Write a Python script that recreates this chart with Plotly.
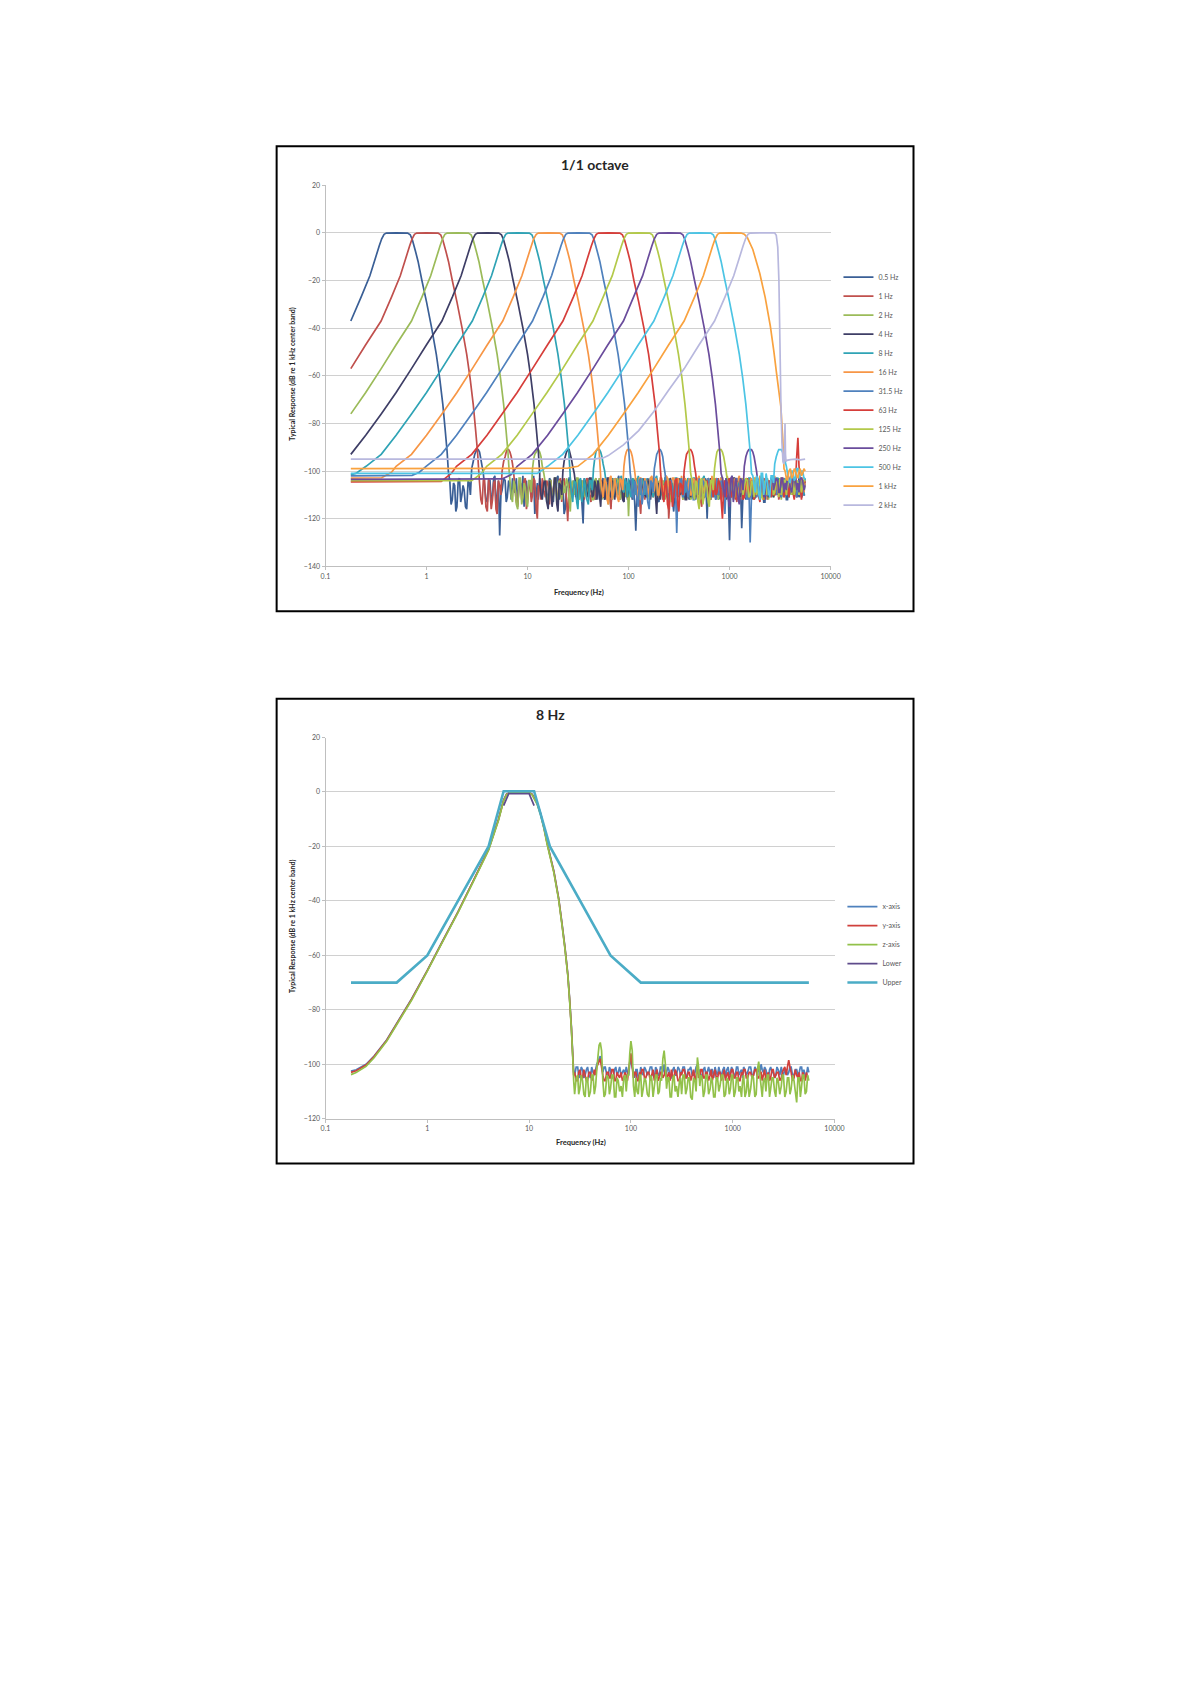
import plotly.graph_objects as go

W, H = 1190, 1684

# ---------------------------------------------------------------
# Chart 1 : 1/1 octave band responses
# ---------------------------------------------------------------
BAND_NAMES = ["0.5 Hz", "1 Hz", "2 Hz", "4 Hz", "8 Hz", "16 Hz", "31.5 Hz",
              "63 Hz", "125 Hz", "250 Hz", "500 Hz", "1 kHz", "2 kHz"]
BAND_COLORS = ["#3A5F96", "#C0504D", "#9BBB59", "#3E3E66", "#2FA3B5", "#F79646",
               "#4F81BD", "#D63E3A", "#B3C94A", "#6A4C9C", "#4CC4E4", "#F9A23F",
               "#B8B8DE"]

# smooth (filter) part of each band: frequency (Hz) and level (dB)
F_05 = [0.178, 0.225, 0.275, 0.31, 0.34, 0.36, 0.38, 0.4, 0.5, 0.65, 0.69, 0.725, 0.775, 0.825, 0.9, 1.0, 1.125, 1.25, 1.35, 1.45, 1.525, 1.6, 1.65]
D_05 = [-37, -27, -18, -11, -5.5, -2.5, -0.6, -0.1, 0, -0.1, -0.8, -3, -7.5, -12, -20, -29, -40, -51, -61, -72, -82, -92, -101]
F_1 = [0.178, 0.25, 0.355, 0.45, 0.55, 0.62, 0.68, 0.72, 0.76, 0.8, 1.0, 1.3, 1.38, 1.45, 1.55, 1.65, 1.8, 2.0, 2.25, 2.5, 2.7, 2.9, 3.05, 3.2, 3.3]
D_1 = [-57, -47, -37, -27, -18, -11, -5.5, -2.5, -0.6, -0.1, 0, -0.1, -0.8, -3, -7.5, -12, -20, -29, -40, -51, -61, -72, -82, -92, -101]
F_2 = [0.178, 0.25, 0.356, 0.5, 0.71, 0.9, 1.1, 1.24, 1.36, 1.44, 1.52, 1.6, 2.0, 2.6, 2.76, 2.9, 3.1, 3.3, 3.6, 4.0, 4.5, 5.0, 5.4, 5.8, 6.1, 6.4, 6.6]
D_2 = [-76, -67, -57, -47, -37, -27, -18, -11, -5.5, -2.5, -0.6, -0.1, 0, -0.1, -0.8, -3, -7.5, -12, -20, -29, -40, -51, -61, -72, -82, -92, -101]
F_4 = [0.178, 0.25, 0.356, 0.5, 0.71, 1.0, 1.42, 1.8, 2.2, 2.48, 2.72, 2.88, 3.04, 3.2, 4.0, 5.2, 5.52, 5.8, 6.2, 6.6, 7.2, 8.0, 9.0, 10.0, 10.8, 11.6, 12.2, 12.8, 13.2]
D_4 = [-93, -85, -76, -67, -57, -47, -37, -27, -18, -11, -5.5, -2.5, -0.6, -0.1, 0, -0.1, -0.8, -3, -7.5, -12, -20, -29, -40, -51, -61, -72, -82, -92, -101]
F_8 = [0.178, 0.2, 0.252, 0.356, 0.5, 0.71, 1.0, 1.42, 2.0, 2.84, 3.6, 4.4, 4.96, 5.44, 5.76, 6.08, 6.4, 8.0, 10.4, 11.04, 11.6, 12.4, 13.2, 14.4, 16.0, 18.0, 20.0, 21.6, 23.2, 24.4, 25.6, 26.4]
D_8 = [-101.5, -101, -98, -93, -85, -76, -67, -57, -47, -37, -27, -18, -11, -5.5, -2.5, -0.6, -0.1, 0, -0.1, -0.8, -3, -7.5, -12, -20, -29, -40, -51, -61, -72, -82, -92, -101]
F_16 = [0.178, 0.36, 0.45, 0.5, 0.71, 1.0, 1.42, 2.0, 2.84, 4.0, 5.68, 7.2, 8.8, 9.92, 10.9, 11.5, 12.2, 12.8, 16.0, 20.8, 22.1, 23.2, 24.8, 26.4, 28.8, 32.0, 36.0, 40.0, 43.2, 46.4, 48.8, 51.2, 52.8]
D_16 = [-103, -102.8, -100.5, -98, -93, -85, -76, -67, -57, -47, -37, -27, -18, -11, -5.5, -2.5, -0.6, -0.1, 0, -0.1, -0.8, -3, -7.5, -12, -20, -29, -40, -51, -61, -72, -82, -92, -101]
F_315 = [0.178, 0.72, 0.85, 0.99, 1.4, 1.98, 2.8, 3.94, 5.6, 7.9, 11.2, 14.2, 17.3, 19.5, 21.4, 22.7, 23.9, 25.2, 31.5, 41.0, 43.5, 45.7, 48.8, 52.0, 56.7, 63.0, 70.9, 78.8, 85.0, 91.4, 96.0, 100.8, 104.0]
D_315 = [-102, -101.8, -100.5, -98, -93, -85, -76, -67, -57, -47, -37, -27, -18, -11, -5.5, -2.5, -0.6, -0.1, 0, -0.1, -0.8, -3, -7.5, -12, -20, -29, -40, -51, -61, -72, -82, -92, -101]
F_63 = [0.178, 1.4, 1.76, 1.98, 2.8, 3.97, 5.6, 7.9, 11.2, 15.8, 22.4, 28.4, 34.7, 39.0, 42.8, 45.4, 47.9, 50.4, 63.0, 82.0, 86.9, 91.4, 97.7, 104.0, 113.0, 126.0, 142.0, 158.0, 170.0, 183.0, 192.0, 202.0, 208.0]
D_63 = [-104.5, -104.3, -101, -98, -93, -85, -76, -67, -57, -47, -37, -27, -18, -11, -5.5, -2.5, -0.6, -0.1, 0, -0.1, -0.8, -3, -7.5, -12, -20, -29, -40, -51, -61, -72, -82, -92, -101]
F_125 = [0.178, 2.8, 3.5, 3.94, 5.56, 7.9, 11.1, 15.6, 22.3, 31.3, 44.4, 56.0, 69.0, 77.5, 85.0, 90.0, 95.0, 100.0, 125.0, 162.0, 172.0, 181.0, 194.0, 206.0, 225.0, 250.0, 281.0, 312.0, 338.0, 362.0, 381.0, 400.0, 412.0]
D_125 = [-104, -104, -101, -98, -93, -85, -76, -67, -57, -47, -37, -27, -18, -11, -5.5, -2.5, -0.6, -0.1, 0, -0.1, -0.8, -3, -7.5, -12, -20, -29, -40, -51, -61, -72, -82, -92, -101]
F_250 = [0.178, 5.6, 6.9, 7.9, 11.1, 15.8, 22.3, 31.3, 44.5, 62.5, 89.0, 112.0, 138.0, 155.0, 170.0, 180.0, 190.0, 200.0, 250.0, 325.0, 345.0, 362.0, 388.0, 412.0, 450.0, 500.0, 562.0, 625.0, 675.0, 725.0, 762.0, 800.0, 825.0]
D_250 = [-103.5, -103.3, -101.5, -98, -93, -85, -76, -67, -57, -47, -37, -27, -18, -11, -5.5, -2.5, -0.6, -0.1, 0, -0.1, -0.8, -3, -7.5, -12, -20, -29, -40, -51, -61, -72, -82, -92, -101]
F_500 = [0.178, 12.5, 15.8, 22.3, 31.5, 44.5, 62.5, 89.0, 125.0, 178.0, 225.0, 275.0, 310.0, 340.0, 360.0, 380.0, 400.0, 500.0, 650.0, 690.0, 725.0, 775.0, 825.0, 900.0, 1000.0, 1125.0, 1250.0, 1350.0, 1450.0, 1525.0, 1600.0, 1650.0]
D_500 = [-101, -101, -98, -93, -85, -76, -67, -57, -47, -37, -27, -18, -11, -5.5, -2.5, -0.6, -0.1, 0, -0.1, -0.8, -3, -7.5, -12, -20, -29, -40, -51, -61, -72, -82, -92, -101]
F_1K = [0.178, 25.0, 31.5, 44.5, 63.0, 89.0, 125.0, 178.0, 250.0, 355.0, 450.0, 550.0, 620.0, 680.0, 720.0, 760.0, 800.0, 1000.0, 1300.0, 1400.0, 1500.0, 1700.0, 1990.0, 2250.0, 2530.0, 2750.0, 2920.0, 3220.0, 3370.0, 3460.0]
D_1K = [-99, -98.8, -98, -93, -85, -76, -67, -57, -47, -37, -27, -18, -11, -5.5, -2.5, -0.6, -0.1, 0, -0.1, -0.6, -2, -7, -17, -27, -39, -50, -59, -73, -87, -99]
F_2K = [0.178, 45.0, 56.0, 63.0, 89.0, 126.0, 178.0, 250.0, 356.0, 500.0, 710.0, 900.0, 1100.0, 1240.0, 1360.0, 1440.0, 1520.0, 1600.0, 2000.0, 2790.0, 2900.0, 3000.0, 3080.0, 3150.0, 3220.0, 3300.0, 3380.0, 3450.0, 3500.0, 3540.0, 3580.0, 3620.0, 3700.0, 4000.0, 4500.0, 5000.0, 5600.0]
D_2K = [-95, -95, -94.5, -93.5, -89, -83, -75, -66, -57, -47, -37, -27, -18, -11, -5.5, -2.5, -0.6, -0.1, 0, 0, -1, -6, -20, -45, -70, -88, -96, -97, -90, -80, -93, -96, -95.5, -95.2, -95, -95.3, -95]

# analyser grid = R80 preferred numbers, 1 Hz .. 5.6 kHz
R80 = [1.00, 1.03, 1.06, 1.09, 1.12, 1.15, 1.18, 1.22, 1.25, 1.28, 1.32, 1.36, 1.40, 1.45,
       1.50, 1.55, 1.60, 1.65, 1.70, 1.75, 1.80, 1.85, 1.90, 1.95, 2.00, 2.06, 2.12, 2.18,
       2.24, 2.30, 2.36, 2.43, 2.50, 2.58, 2.65, 2.72, 2.80, 2.90, 3.00, 3.07, 3.15, 3.25,
       3.35, 3.45, 3.55, 3.65, 3.75, 3.87, 4.00, 4.12, 4.25, 4.37, 4.50, 4.62, 4.75, 4.87,
       5.00, 5.15, 5.30, 5.45, 5.60, 5.80, 6.00, 6.15, 6.30, 6.50, 6.70, 6.90, 7.10, 7.30,
       7.50, 7.75, 8.00, 8.25, 8.50, 8.75, 9.00, 9.25, 9.50, 9.75]
DECADES = [1, 10, 100, 1000]
F_END = 5600
NOISE_START = [1.7, 3.35, 6.7, 13.2, 26.5, 53, 106, 212, 425, 850, 1700, 3550]

# noise part: N_* on the even R80 points, M_* on the odd R80 points
N_05 = [-104, -112, -106, -115, -103, -110, -108, -116, -105, -99,
        -93, -91, -92, -98, -106, -113, -104, -110, -102, -111,
        -127, -108, -104, -111, -106, -103, -109, -114, -105, -102,
        -108, -112, -104, -107, -118, -105, -103, -110, -106, -109,
        -104, -113, -107, -102, -110, -105, -116, -106, -103, -108,
        -111, -104, -107, -122, -105, -103, -109, -106, -112, -104,
        -108, -103, -110, -106, -115, -104, -107, -102, -109, -113,
        -105, -110, -104, -107, -125, -106, -103, -108, -111, -105,
        -103, -109, -106, -113, -104, -108, -102, -110, -106, -117,
        -105, -103, -109, -107, -104, -112, -106, -103, -108, -110,
        -104, -107, -120, -105, -103, -109, -106, -111, -104, -108,
        -106, -129, -105, -110, -103, -108, -124, -106, -104, -109,
        -105, -111, -104, -108, -106, -113, -103, -109, -105, -107,
        -110, -104, -108, -106, -112, -105, -103, -109, -106, -108,
        -104, -110, -106, -105, -108, -107, -104, -109, -106, -105]
M_05 = [-114, -105, -117, -104, -113, -106, -115, -104, -110, -96,
        -92, -91, -95, -101, -112, -104, -113, -103, -115, -104,
        -110, -103, -113, -104, -112, -108, -103, -106, -110, -115,
        -104, -106, -111, -102, -110, -112, -107, -104, -113, -103,
        -111, -105, -103, -112, -104, -118, -107, -103, -110, -104,
        -106, -110, -113, -104, -111, -107, -104, -111, -105, -112,
        -104, -112, -105, -109, -103, -110, -104, -112, -105, -106,
        -112, -104, -109, -113, -106, -104, -111, -105, -103, -110,
        -110, -104, -112, -104, -110, -103, -111, -105, -112, -104,
        -111, -109, -104, -112, -110, -104, -109, -112, -104, -106,
        -111, -103, -106, -112, -110, -104, -112, -104, -110, -103,
        -112, -107, -111, -104, -112, -104, -109, -112, -110, -104,
        -112, -104, -110, -103, -113, -104, -110, -104, -111, -103,
        -104, -111, -103, -112, -105, -110, -109, -104, -111, -103,
        -110, -104, -111, -110, -104, -111, -109, -104, -110, -111]
N_1 = [-105, -114, -103, -117, -108, -112, -104, -118, -106, -100,
       -94, -91, -92, -97, -107, -115, -105, -111, -103, -113,
       -106, -110, -104, -120, -107, -103, -111, -106, -104, -109,
       -105, -112, -103, -108, -106, -121, -104, -109, -107, -103,
       -110, -105, -108, -104, -113, -106, -103, -109, -105, -111,
       -104, -107, -116, -105, -103, -110, -106, -108, -104, -112,
       -106, -103, -109, -105, -118, -107, -104, -110, -105, -108,
       -103, -111, -106, -104, -109, -120, -105, -107, -103, -110,
       -106, -104, -112, -105, -108, -103, -109, -106, -115, -104,
       -107, -105, -110, -103, -108, -106, -104, -111, -105, -109,
       -104, -106, -113, -105, -103, -108, -106, -110, -104, -107,
       -105, -109, -103, -107, -112, -104, -106, -108, -105, -110,
       -104, -107, -105, -109, -106, -104, -108, -105, -107, -106,
       -105, -108, -104, -106, -109, -105, -107, -104, -106, -105]
M_1 = [-112, -104, -115, -103, -116, -105, -116, -104, -110, -96,
       -92, -91, -94, -101, -113, -104, -112, -104, -116, -105,
       -113, -103, -116, -106, -112, -108, -104, -114, -110, -103,
       -111, -104, -113, -103, -112, -106, -111, -104, -112, -110,
       -104, -112, -103, -110, -104, -112, -110, -103, -111, -104,
       -112, -110, -104, -111, -108, -103, -112, -104, -111, -105,
       -111, -110, -103, -112, -104, -112, -104, -103, -111, -104,
       -110, -104, -112, -109, -103, -110, -112, -104, -110, -105,
       -112, -109, -104, -111, -104, -111, -104, -112, -105, -110,
       -103, -112, -104, -111, -103, -112, -109, -104, -112, -103,
       -111, -109, -104, -112, -110, -104, -112, -104, -111, -103,
       -111, -104, -112, -103, -105, -111, -110, -104, -112, -104,
       -111, -103, -110, -104, -110, -111, -104, -111, -104, -110,
       -111, -104, -110, -111, -104, -110, -104, -111, -104, -110]
N_2 = [-104, -113, -106, -116, -103, -111, -107, -115, -104, -99,
       -93, -91, -92, -98, -105, -114, -104, -110, -103, -112,
       -106, -104, -109, -105, -117, -104, -107, -103, -110, -106,
       -104, -108, -105, -112, -103, -107, -105, -109, -104, -114,
       -106, -103, -108, -105, -110, -104, -107, -119, -105, -103,
       -108, -106, -104, -111, -105, -107, -103, -109, -106, -104,
       -110, -105, -107, -104, -113, -106, -103, -108, -105, -109,
       -104, -106, -111, -103, -107, -105, -110, -104, -108, -106,
       -103, -109, -105, -107, -104, -112, -106, -103, -108, -105,
       -107, -104, -110, -106, -103, -108, -105, -109, -104, -106,
       -105, -108, -104, -107, -106, -110, -104, -105, -108, -106,
       -104, -107, -105, -106, -108, -104, -107, -105, -106, -105]
M_2 = [-111, -104, -114, -103, -114, -105, -113, -104, -109, -95,
       -92, -91, -94, -101, -112, -104, -113, -103, -114, -104,
       -112, -109, -103, -112, -106, -110, -103, -112, -104, -111,
       -110, -103, -112, -104, -111, -103, -112, -104, -111, -105,
       -111, -110, -103, -112, -104, -111, -105, -104, -111, -110,
       -103, -112, -110, -104, -112, -103, -111, -104, -111, -110,
       -104, -112, -103, -111, -105, -111, -110, -103, -112, -104,
       -111, -112, -104, -111, -103, -112, -104, -111, -104, -112,
       -110, -104, -112, -103, -111, -104, -111, -110, -104, -111,
       -103, -111, -104, -111, -110, -104, -112, -103, -110, -111,
       -112, -104, -112, -103, -111, -104, -110, -112, -104, -110,
       -111, -104, -111, -110, -104, -111, -104, -110, -111, -104]
N_4 = [-105, -112, -104, -116, -107, -110, -103, -117, -106, -100,
       -94, -91, -93, -98, -106, -113, -104, -111, -105, -109,
       -103, -110, -106, -104, -115, -105, -108, -103, -111, -106,
       -104, -109, -105, -113, -103, -107, -106, -110, -104, -108,
       -106, -103, -111, -105, -107, -104, -118, -106, -103, -109,
       -105, -108, -104, -110, -106, -103, -109, -105, -112, -104,
       -107, -105, -103, -109, -106, -111, -104, -108, -105, -106,
       -103, -108, -106, -104, -110, -105, -107, -103, -109, -105,
       -106, -104, -108, -105, -111, -103, -107, -106, -104, -109,
       -105, -107, -104, -106, -108, -105, -103, -107, -106, -104,
       -106, -105, -108, -104, -107, -105, -106, -104, -107, -105]
M_4 = [-110, -105, -113, -104, -115, -103, -114, -105, -110, -96,
       -92, -91, -95, -101, -112, -104, -113, -103, -111, -103,
       -111, -104, -112, -110, -104, -112, -103, -110, -104, -112,
       -110, -103, -112, -104, -111, -104, -112, -104, -111, -103,
       -111, -110, -104, -112, -103, -111, -105, -112, -110, -104,
       -111, -103, -112, -104, -111, -110, -104, -112, -104, -111,
       -103, -111, -110, -104, -111, -104, -112, -103, -111, -112,
       -110, -104, -111, -112, -104, -111, -103, -110, -104, -111,
       -111, -110, -103, -112, -104, -111, -104, -111, -110, -103,
       -111, -104, -111, -110, -103, -111, -110, -104, -111, -110,
       -104, -111, -103, -110, -104, -111, -104, -110, -104, -111]
N_8 = [-104, -113, -105, -116, -103, -110, -107, -114, -104, -99,
       -92, -91, -92, -97, -105, -112, -103, -110, -104, -108,
       -102, -109, -105, -103, -111, -104, -107, -102, -110, -105,
       -103, -108, -104, -106, -102, -109, -105, -112, -103, -106,
       -104, -107, -103, -110, -105, -102, -108, -104, -106, -103,
       -109, -104, -106, -102, -107, -105, -103, -111, -104, -106,
       -103, -105, -108, -104, -102, -107, -105, -103, -109, -104,
       -106, -103, -105, -108, -104, -102, -106, -105, -103, -107,
       -104, -106, -103, -105, -107, -104, -102, -106, -105, -103,
       -105, -104, -106, -103, -105, -104, -106, -105, -104, -105]
M_8 = [-109, -104, -113, -104, -113, -103, -112, -104, -108, -95,
       -91, -91, -94, -100, -110, -104, -112, -103, -111, -103,
       -108, -103, -111, -109, -103, -110, -104, -109, -103, -110,
       -110, -103, -111, -103, -110, -104, -111, -103, -110, -109,
       -110, -103, -110, -104, -111, -109, -103, -110, -103, -110,
       -103, -110, -103, -109, -103, -110, -109, -103, -110, -103,
       -110, -111, -103, -110, -109, -103, -111, -109, -103, -110,
       -103, -110, -109, -103, -110, -109, -103, -110, -109, -103,
       -110, -103, -110, -109, -103, -110, -109, -103, -110, -109,
       -110, -103, -110, -109, -103, -110, -103, -110, -109, -103]
N_16 = [-103, -111, -105, -114, -102, -109, -106, -113, -104, -98,
        -92, -91, -92, -97, -104, -111, -103, -109, -105, -107,
        -102, -108, -104, -110, -103, -106, -102, -109, -105, -103,
        -107, -104, -102, -108, -105, -103, -110, -104, -106, -102,
        -105, -103, -108, -104, -102, -106, -104, -109, -103, -105,
        -102, -107, -104, -103, -106, -102, -105, -108, -103, -104,
        -106, -103, -104, -102, -107, -105, -103, -104, -106, -102,
        -104, -105, -103, -106, -104, -102, -105, -103, -104, -105,
        -103, -104, -105, -103, -104, -103, -105, -104, -103, -104]
M_16 = [-108, -103, -112, -103, -112, -103, -111, -103, -108, -94,
        -91, -91, -94, -100, -109, -103, -111, -103, -110, -103,
        -109, -103, -110, -103, -109, -110, -103, -109, -103, -110,
        -103, -109, -110, -103, -109, -110, -103, -109, -103, -110,
        -109, -110, -103, -109, -110, -103, -109, -103, -110, -109,
        -110, -103, -109, -110, -103, -109, -103, -110, -109, -103,
        -103, -109, -110, -108, -103, -109, -110, -108, -103, -109,
        -109, -103, -110, -103, -109, -108, -103, -109, -110, -103,
        -109, -108, -103, -109, -108, -103, -109, -103, -108, -109]
N_315 = [-104, -112, -106, -115, -103, -110, -107, -116, -105, -99,
         -93, -91, -92, -98, -106, -113, -104, -111, -126, -108,
         -103, -110, -105, -108, -104, -112, -106, -103, -109, -105,
         -107, -104, -111, -106, -103, -109, -105, -118, -104, -107,
         -105, -110, -103, -108, -106, -104, -112, -130, -105, -108,
         -103, -109, -106, -104, -110, -105, -107, -103, -108, -106,
         -104, -109, -105, -107, -103, -108, -106, -104, -110, -105,
         -106, -104, -108, -105, -107, -104, -106, -105, -107, -104]
M_315 = [-110, -104, -113, -104, -114, -104, -113, -104, -109, -96,
         -92, -91, -94, -101, -111, -104, -112, -104, -110, -104,
         -111, -104, -111, -103, -112, -104, -110, -111, -104, -111,
         -103, -110, -104, -112, -110, -104, -112, -105, -110, -104,
         -111, -104, -111, -104, -112, -110, -104, -110, -104, -111,
         -110, -104, -111, -110, -104, -111, -103, -110, -104, -111,
         -110, -104, -111, -103, -110, -111, -104, -111, -104, -110,
         -110, -104, -111, -104, -110, -104, -110, -104, -110, -104]
N_63 = [-105, -113, -104, -116, -107, -111, -103, -117, -106, -100,
        -93, -91, -92, -98, -106, -114, -105, -110, -104, -112,
        -106, -103, -109, -105, -120, -104, -107, -103, -110, -106,
        -104, -108, -105, -111, -103, -107, -106, -109, -104, -113,
        -105, -103, -108, -106, -104, -110, -105, -107, -103, -108,
        -106, -104, -109, -105, -86, -104, -107, -105, -106, -104]
M_63 = [-110, -105, -114, -104, -115, -104, -114, -105, -110, -96,
        -92, -91, -94, -101, -112, -105, -113, -105, -112, -104,
        -111, -110, -104, -112, -106, -111, -104, -111, -104, -112,
        -110, -104, -112, -104, -111, -104, -112, -104, -111, -105,
        -112, -110, -104, -111, -110, -104, -111, -104, -111, -110,
        -111, -104, -112, -94, -98, -112, -104, -111, -104, -111]
N_125 = [-104, -112, -105, -116, -103, -110, -107, -115, -104, -99,
         -92, -91, -92, -97, -104, -113, -103, -111, -105, -109,
         -103, -107, -104, -110, -105, -103, -108, -104, -112, -105,
         -103, -106, -104, -109, -105, -103, -107, -104, -106, -105,
         -104, -107, -105, -103, -106, -104, -105, -106, -104, -105]
M_125 = [-109, -104, -113, -104, -114, -104, -113, -104, -108, -95,
         -91, -91, -94, -100, -110, -104, -112, -104, -111, -104,
         -110, -103, -111, -104, -111, -110, -104, -110, -104, -110,
         -110, -104, -110, -104, -111, -110, -104, -110, -104, -110,
         -110, -104, -110, -109, -104, -110, -104, -110, -109, -104]
N_250 = [-103, -111, -105, -115, -102, -109, -106, -114, -104, -98,
         -92, -91, -92, -97, -104, -112, -103, -110, -104, -107,
         -102, -106, -104, -109, -103, -105, -102, -107, -104, -103,
         -105, -103, -104, -106, -103, -105, -104, -103, -104, -103]
M_250 = [-108, -103, -112, -103, -113, -103, -112, -103, -108, -94,
         -91, -91, -94, -100, -109, -103, -111, -103, -109, -103,
         -108, -103, -109, -103, -109, -108, -103, -109, -103, -108,
         -109, -103, -108, -103, -109, -103, -108, -109, -103, -108]
N_500 = [-102, -109, -103, -112, -101, -107, -104, -111, -102, -97,
         -92, -91, -92, -96, -101, -105, -100, -103, -99, -102,
         -100, -103, -99, -101, -100, -102, -99, -101, -100, -101]
M_500 = [-106, -102, -110, -101, -110, -101, -109, -102, -105, -94,
         -91, -91, -94, -98, -104, -100, -104, -99, -103, -100,
         -103, -99, -102, -99, -103, -100, -102, -100, -103, -100]
N_1K = [-100, -104, -99, -102, -100, -103, -99, -101, -100, -99, -100]
M_1K = [-103, -100, -103, -99, -102, -100, -102, -99, -102, -101, -100]

# ---------------------------------------------------------------
# Chart 2 : 8 Hz band, three axes and limits
# ---------------------------------------------------------------
AXIS_NAMES = ["x-axis", "y-axis", "z-axis"]
AXIS_COLORS = ["#4F81BD", "#D0403C", "#92C14A"]
F8_SMOOTH = [0.178, 0.2, 0.25, 0.3, 0.4, 0.5, 0.7, 1.0, 1.4, 2.0, 2.8, 4.0, 5.0, 5.6, 6.0, 6.5, 8.0, 10.0, 10.7, 11.2, 12.0, 13.0, 14.0, 15.0, 16.0, 17.5, 19.5, 21.0, 22.5, 24.0, 25.0, 26.0, 26.8, 27.4]
D8_X = [-102.5, -102, -100, -97, -91, -85, -76, -65.5, -55, -44, -33, -21, -10, -3, -0.8, -0.1, 0, -0.2, -0.8, -2, -4, -8, -13, -18.5, -23, -29, -39, -48, -57, -67, -76, -86, -96, -103]
D8_Y = [-103, -102.4, -100.3, -97.2, -91.2, -85.2, -76.2, -65.6, -55.1, -44.1, -33, -21.1, -10.2, -3.2, -0.9, -0.1, 0, -0.2, -0.9, -2.2, -4.2, -8.2, -13.2, -18.7, -23.2, -29.3, -39.2, -48.3, -57.3, -67.2, -76.3, -86.4, -96.5, -104]
D8_Z = [-103.8, -103, -100.8, -97.6, -91.5, -85.5, -76.5, -65.8, -55.3, -44.3, -33.3, -21.4, -10.5, -3.4, -1, -0.2, 0, -0.3, -1, -2.4, -4.5, -8.5, -13.5, -19, -23.5, -29.6, -39.5, -48.6, -57.6, -67.5, -76.6, -86.8, -97, -106]
NOISE8_START = 28
N8_X = [-104, -101, -105, -102, -104, -101, -105, -103, -102, -99,
        -97, -103, -101, -104, -102, -105, -101, -103, -104, -102,
        -101, -104, -98, -103, -102, -105, -101, -104, -102, -103,
        -101, -105, -102, -104, -101, -100, -103, -102, -105, -101,
        -104, -102, -103, -101, -105, -102, -104, -103, -100, -102,
        -105, -101, -103, -104, -102, -101, -104, -103, -102, -105,
        -101, -103, -102, -104, -101, -103, -105, -102, -103, -101,
        -104, -102, -101, -100, -103, -102, -105, -101, -103, -104,
        -102, -101, -104, -102, -103, -101, -104, -102, -103, -101,
        -102, -104, -103, -102, -104, -103]
M8_X = [-101, -104, -101, -105, -102, -104, -101, -104, -100, -98,
        -100, -101, -104, -101, -105, -102, -104, -101, -103, -104,
        -103, -100, -101, -105, -102, -104, -103, -101, -104, -101,
        -104, -101, -104, -101, -103, -104, -101, -105, -102, -104,
        -101, -104, -101, -104, -102, -101, -104, -101, -103, -104,
        -102, -104, -101, -102, -105, -103, -101, -104, -101, -102,
        -104, -101, -104, -101, -104, -102, -101, -104, -101, -104,
        -101, -104, -103, -102, -101, -104, -102, -103, -105, -101,
        -104, -103, -102, -104, -101, -104, -102, -104, -101, -104,
        -104, -101, -102, -104, -101, -102]
N8_Y = [-103, -106, -102, -105, -104, -106, -103, -105, -104, -100,
        -98, -104, -106, -103, -105, -102, -106, -104, -103, -105,
        -104, -102, -96, -105, -103, -106, -104, -102, -105, -103,
        -104, -106, -102, -105, -103, -104, -106, -103, -102, -105,
        -103, -106, -104, -102, -105, -103, -104, -106, -101, -104,
        -102, -105, -103, -104, -106, -102, -105, -103, -104, -106,
        -103, -104, -102, -105, -103, -106, -104, -102, -105, -103,
        -104, -102, -105, -103, -104, -106, -103, -105, -102, -104,
        -103, -105, -102, -104, -98.5, -103, -105, -104, -103, -106,
        -104, -103, -105, -104, -106, -105]
M8_Y = [-106, -103, -105, -102, -106, -103, -106, -102, -101, -99,
        -101, -106, -103, -105, -102, -106, -103, -105, -106, -103,
        -106, -99, -101, -103, -106, -103, -102, -105, -103, -106,
        -102, -104, -106, -103, -105, -102, -104, -106, -105, -102,
        -106, -103, -102, -105, -103, -106, -102, -104, -105, -102,
        -105, -103, -106, -102, -104, -105, -103, -106, -102, -104,
        -106, -102, -105, -103, -106, -103, -102, -105, -103, -105,
        -102, -105, -103, -106, -102, -104, -106, -102, -105, -103,
        -106, -103, -101, -101, -101, -106, -102, -105, -106, -103,
        -106, -105, -103, -106, -103, -104]
N8_Z = [-111, -104, -109, -106, -112, -105, -110, -104, -108, -97,
        -92, -106, -111, -105, -109, -104, -112, -106, -108, -105,
        -110, -104, -91.5, -108, -105, -111, -104, -109, -106, -112,
        -105, -108, -104, -110, -106, -95, -109, -105, -112, -104,
        -108, -106, -111, -104, -109, -105, -113, -106, -97.5, -108,
        -105, -110, -104, -109, -106, -112, -105, -108, -104, -111,
        -106, -109, -104, -110, -105, -108, -106, -112, -104, -109,
        -105, -111, -99, -108, -106, -110, -104, -109, -105, -112,
        -106, -108, -104, -110, -105, -109, -106, -114, -105, -108,
        -104, -110, -106, -109, -105, -108]
M8_Z = [-105, -111, -104, -111, -105, -112, -104, -111, -102, -93,
        -95, -112, -104, -111, -104, -112, -105, -110, -112, -104,
        -104, -96, -95, -112, -110, -104, -112, -105, -111, -104,
        -112, -104, -111, -105, -98, -100, -105, -112, -105, -110,
        -112, -105, -104, -111, -105, -112, -105, -110, -101, -104,
        -112, -104, -111, -105, -112, -105, -110, -104, -112, -105,
        -111, -104, -112, -105, -110, -112, -104, -110, -112, -104,
        -112, -102, -104, -112, -105, -104, -112, -105, -110, -105,
        -111, -104, -112, -105, -111, -104, -110, -105, -112, -104,
        -111, -104, -110, -105, -112, -104]
F_LOWER = [5.62, 6.31, 10.0, 11.2]
D_LOWER = [-5.0, -0.6, -0.6, -5.0]
F_UPPER = [0.178, 0.5, 1.0, 2.0, 4.0, 5.62, 11.2, 16.0, 32.0, 63.0, 125.0, 5600.0]
D_UPPER = [-70, -70, -60, -40, -20, 0.3, 0.3, -20, -40, -60, -70, -70]

# ---------------------------------------------------------------
GRID = [m * d for d in DECADES for m in R80 if m * d <= F_END * 1.0001]


def noise_trace(start, even_vals, odd_vals):
    vals = []
    for a, b in zip(even_vals, odd_vals):
        vals += [a, b]
    i0 = next(i for i, g in enumerate(GRID) if g >= start * 0.999)
    xs = GRID[i0:]
    n = min(len(xs), len(vals))
    return xs[:n], vals[:n]


SMOOTH_F = [F_05, F_1, F_2, F_4, F_8, F_16, F_315, F_63, F_125, F_250, F_500, F_1K, F_2K]
SMOOTH_D = [D_05, D_1, D_2, D_4, D_8, D_16, D_315, D_63, D_125, D_250, D_500, D_1K, D_2K]
NOISE_N = [N_05, N_1, N_2, N_4, N_8, N_16, N_315, N_63, N_125, N_250, N_500, N_1K]
NOISE_M = [M_05, M_1, M_2, M_4, M_8, M_16, M_315, M_63, M_125, M_250, M_500, M_1K]

FONT = "Lato"
fig = go.Figure()

for k, name in enumerate(BAND_NAMES):
    xs = list(SMOOTH_F[k])
    ys = list(SMOOTH_D[k])
    if k < len(NOISE_N):
        nx, ny = noise_trace(NOISE_START[k], NOISE_N[k], NOISE_M[k])
        xs += nx
        ys += ny
    fig.add_trace(go.Scatter(x=xs, y=ys, mode="lines", name=name,
                             line=dict(color=BAND_COLORS[k], width=1.7, simplify=False),
                             xaxis="x", yaxis="y", legend="legend"))

noise8_n = [N8_X, N8_Y, N8_Z]
noise8_m = [M8_X, M8_Y, M8_Z]
smooth8 = [D8_X, D8_Y, D8_Z]
for k, name in enumerate(AXIS_NAMES):
    nx, ny = noise_trace(NOISE8_START, noise8_n[k], noise8_m[k])
    fig.add_trace(go.Scatter(x=list(F8_SMOOTH) + nx, y=list(smooth8[k]) + ny,
                             mode="lines", name=name,
                             line=dict(color=AXIS_COLORS[k], width=1.7, simplify=False),
                             xaxis="x2", yaxis="y2", legend="legend2"))
fig.add_trace(go.Scatter(x=F_LOWER, y=D_LOWER, mode="lines", name="Lower",
                         line=dict(color="#5E4B8B", width=1.7),
                         xaxis="x2", yaxis="y2", legend="legend2"))
fig.add_trace(go.Scatter(x=F_UPPER, y=D_UPPER, mode="lines", name="Upper",
                         line=dict(color="#4BACC6", width=2.6),
                         xaxis="x2", yaxis="y2", legend="legend2"))

TICKV = [0.1, 1, 10, 100, 1000, 10000]
TICKT = ["0.1", "1", "10", "100", "1000", "10000"]
tickfont = dict(family=FONT, size=7, color="#595959")


def px(x):
    return x / W


def py(y):
    return 1 - y / H


xcommon = dict(type="log", range=[-1, 4], tickvals=TICKV, ticktext=TICKT,
               showgrid=False, showline=True, linecolor="#BFBFBF", linewidth=1,
               ticks="outside", ticklen=3, tickcolor="#BFBFBF", tickfont=tickfont,
               zeroline=False, fixedrange=True)
ycommon = dict(dtick=20, showgrid=True, gridcolor="#D0D0D0", gridwidth=1,
               showline=True, linecolor="#BFBFBF", linewidth=1, ticks="outside",
               ticklen=3, tickcolor="#BFBFBF", tickfont=tickfont, zeroline=False,
               fixedrange=True)

fig.update_layout(
    width=W, height=H, paper_bgcolor="white", plot_bgcolor="white",
    margin=dict(l=0, r=0, t=0, b=0),
    font=dict(family=FONT),
    xaxis=dict(domain=[px(316.5), px(828)], anchor="y", **xcommon),
    yaxis=dict(domain=[py(556), py(173)], anchor="x", range=[-140, 20], **ycommon),
    xaxis2=dict(domain=[px(316.5), px(832)], anchor="y2", **xcommon),
    yaxis2=dict(domain=[py(1111), py(728)], anchor="x2", range=[-120, 20], **ycommon),
    legend=dict(x=px(836), y=py(380), xanchor="left", yanchor="middle",
                font=dict(family=FONT, size=7, color="#595959"),
                itemwidth=30, bgcolor="rgba(0,0,0,0)", tracegroupgap=0),
    legend2=dict(x=px(840), y=py(936), xanchor="left", yanchor="middle",
                 font=dict(family=FONT, size=7, color="#595959"),
                 itemwidth=30, bgcolor="rgba(0,0,0,0)", tracegroupgap=0),
    showlegend=True,
)

# chart borders
for (y0, y1) in [(134, 601), (689, 1156)]:
    fig.add_shape(type="rect", xref="paper", yref="paper",
                  x0=px(267), x1=px(912), y0=py(y1), y1=py(y0),
                  line=dict(color="black", width=2), fillcolor="rgba(0,0,0,0)")

ann = [
    dict(text="1/1 octave", x=px(589), y=py(152), size=14, angle=0),
    dict(text="8 Hz", x=px(544), y=py(705), size=14, angle=0),
    dict(text="Frequency (Hz)", x=px(573), y=py(582), size=7.5, angle=0),
    dict(text="Frequency (Hz)", x=px(575), y=py(1135), size=7.5, angle=0),
    dict(text="Typical Response (dB re 1 kHz center band)", x=px(283), y=py(363), size=7, angle=-90),
    dict(text="Typical Response (dB re 1 kHz center band)", x=px(283), y=py(918), size=7, angle=-90),
]
for a in ann:
    fig.add_annotation(text=a["text"], x=a["x"], y=a["y"], xref="paper", yref="paper",
                       showarrow=False, textangle=a["angle"], xanchor="center", yanchor="middle",
                       font=dict(family=FONT, size=a["size"], color="#262626", weight="bold"))

fig.write_html("out.html")
